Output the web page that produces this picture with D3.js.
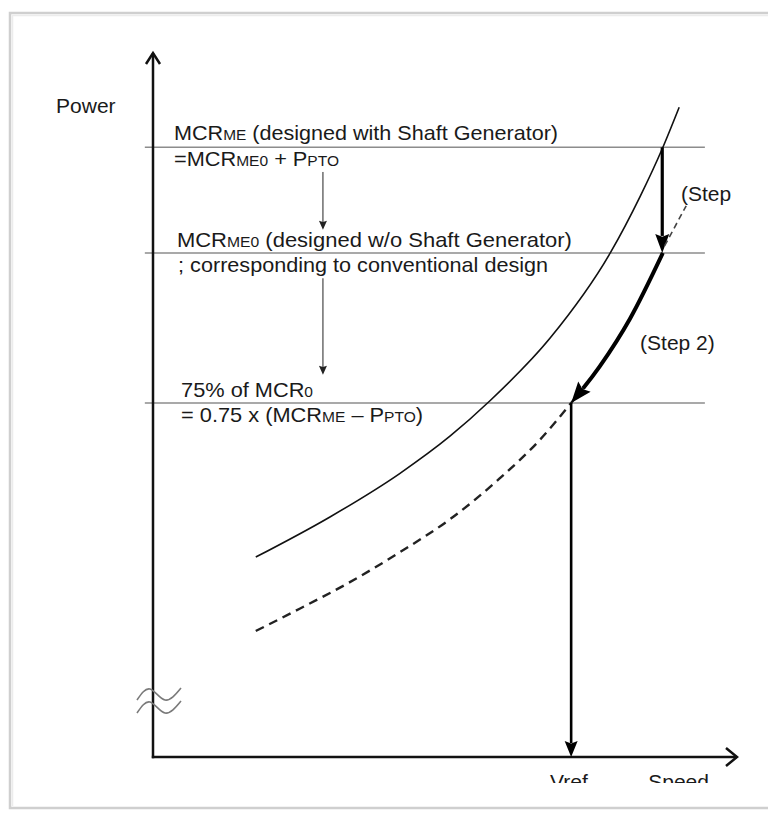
<!DOCTYPE html>
<html>
<head>
<meta charset="utf-8">
<script src="https://cdn.jsdelivr.net/npm/d3@7"></script>
<style>
  body { margin: 0; background: #fff; }
  text { font-family: "Liberation Sans", Arial, sans-serif; fill: #1a1a1a; }
</style>
</head>
<body>
<svg id="chart"></svg>
<script>
// reference power levels (power axis units) and the speed span of their lines
const levelValues = [86.6, 71.6, 50.3]
const levelSpan = [-1.4, 94.5]

// curves, [speed, power]
const solidCurve = [[17.6, 28.4], [30.3, 34.1], [42.3, 40.3], [50.9, 45.6], [57.7, 50.6],
    [68.0, 59.5], [78.3, 71.6], [83.4, 79.6], [87.2, 86.4], [90.1, 92.3]]
const dashedCurve = [[17.6, 17.9], [25.2, 21.1], [33.2, 24.6], [42.3, 29.1], [50.9, 33.8],
    [59.4, 39.6], [66.3, 45.1], [71.6, 50.3], [76.5, 55.5], [81.7, 62.3], [87.3, 71.6]]
const step2Curve = [[87.3, 71.6], [81.7, 62.3], [76.5, 55.5], [71.6, 50.3]]
const step1Arrow = [[87.2, 86.6], [87.2, 71.6]]
const vrefArrow = [[71.6, 50.3], [71.6, 0]]
const thinArrows = [[[29.1, 83.1], [29.1, 74.9]], [[29.1, 68.0], [29.1, 54.3]]]
const step1Leader = [[87.6, 72.6], [91.3, 78.3]]

// label texts, each a list of [text, isSmall]
const levelLabels = [
    [['MCR', 0], ['ME', 1], [' (designed with Shaft Generator)', 0]],
    [['=MCR', 0], ['ME0', 1], [' + P', 0], ['PTO', 1]],
    [['MCR', 0], ['ME0', 1], [' (designed w/o Shaft Generator)', 0]],
    [['; corresponding to conventional design', 0]],
    [['75% of MCR', 0], ['0', 1]],
    [['= 0.75 x (MCR', 0], ['ME', 1], [' \u2013 P', 0], ['PTO', 1], [')', 0]]
]
const axisLabels = ['Power', 'Vref', 'Speed']
const stepLabels = ['(Step', '(Step 2)']

function drawChart() {
    const W = 768, H = 816

    const svg = d3.select('#chart')
        .attr('width', W)
        .attr('height', H)

    svg.append('rect').attr('width', W).attr('height', H).attr('fill', '#fff')

    // screenshot frame
    svg.append('path')
        .attr('d', `M${W + 5},13 H10 V808 H${W + 5}`)
        .attr('fill', 'none')
        .attr('stroke', '#cfcfcf')
        .attr('stroke-width', 2.5)
    svg.append('path')
        .attr('d', `M${W + 5},15.5 H12.5 V806`)
        .attr('fill', 'none')
        .attr('stroke', '#ececec')
        .attr('stroke-width', 1.5)

    const defs = svg.append('defs')
    defs.append('clipPath').attr('id', 'crop')
        .append('rect').attr('x', 0).attr('y', 0).attr('width', W).attr('height', 783)

    const x = d3.scaleLinear().domain([0, 100]).range([153, 737])
    const y = d3.scaleLinear().domain([0, 100]).range([757, 53])
    const line = d3.line().x(d => x(d[0])).y(d => y(d[1]))
    const smooth = d3.line().x(d => x(d[0])).y(d => y(d[1])).curve(d3.curveMonotoneX)

    const g = svg.append('g')

    // draw a path with a filled head at its end
    function arrow(pts, gen, opt) {
        const p = g.append('path')
            .attr('d', gen(pts))
            .attr('fill', 'none')
            .attr('stroke', opt.color)
            .attr('stroke-width', opt.width)
        const node = p.node()
        const total = node.getTotalLength()
        // monotone curves get drawn left to right, so the head may sit at the start
        const last = pts[pts.length - 1]
        const start = node.getPointAtLength(0)
        const reversed = Math.abs(start.x - x(last[0])) < 0.5 && Math.abs(start.y - y(last[1])) < 0.5 && pts.length > 1
        const L = opt.len
        let tip, base
        if (reversed) {
            tip = node.getPointAtLength(0)
            base = node.getPointAtLength(L)
            p.attr('stroke-dasharray', `0 ${L - 2} ${total}`)
        } else {
            tip = node.getPointAtLength(total)
            base = node.getPointAtLength(total - L)
            p.attr('stroke-dasharray', `${total - L + 2} ${total}`)
        }
        const ang = Math.atan2(tip.y - base.y, tip.x - base.x) * 180 / Math.PI
        g.append('path')
            .attr('d', `M0,0L${-L},${-opt.hw}L${-L * 0.85},0L${-L},${opt.hw}Z`)
            .attr('transform', `translate(${tip.x},${tip.y}) rotate(${ang})`)
            .attr('fill', opt.color)
    }

    // level lines
    g.append('g')
        .selectAll('line')
        .data(levelValues)
        .join('line')
            .attr('x1', x(levelSpan[0]))
            .attr('x2', x(levelSpan[1]))
            .attr('y1', d => y(d))
            .attr('y2', d => y(d))
            .attr('stroke', '#8c8c8c')
            .attr('stroke-width', 1.5)

    // axes
    const xAxis = g.append('g')
        .attr('transform', `translate(0,${y(0)})`)
        .call(d3.axisBottom(x).tickValues([]).tickSizeOuter(0))
    const yAxis = g.append('g')
        .attr('transform', `translate(${x(0)},0)`)
        .call(d3.axisLeft(y).tickValues([]).tickSizeOuter(0))
    xAxis.select('.domain').attr('stroke', '#111').attr('stroke-width', 2.5).attr('d', `M${x(0) - 1.2},0H${x(100)}`)
    yAxis.select('.domain').attr('stroke', '#111').attr('stroke-width', 2.5).attr('d', `M0,${y(0) + 1.2}V${y(100)}`)

    g.append('path')
        .attr('d', `M${x(100) - 11},${y(0) - 9}L${x(100)},${y(0)}L${x(100) - 11},${y(0) + 9}`)
        .attr('fill', 'none').attr('stroke', '#111').attr('stroke-width', 2.5)
    g.append('path')
        .attr('d', `M${x(0) - 7},${y(100) + 11}L${x(0)},${y(100)}L${x(0) + 7},${y(100) + 11}`)
        .attr('fill', 'none').attr('stroke', '#111').attr('stroke-width', 2.5)

    // axis break mark
    const wave = d3.line().curve(d3.curveNatural)
    ;[694, 707].forEach(cy => {
        g.append('path')
            .attr('d', wave([[-16, 6], [-3, -5], [12, 6], [28, -6]]))
            .attr('transform', `translate(${x(0)},${cy})`)
            .attr('fill', 'none')
            .attr('stroke', '#7a7a7a')
            .attr('stroke-width', 1.6)
    })

    // curves
    g.append('path')
        .attr('d', smooth(solidCurve))
        .attr('fill', 'none')
        .attr('stroke', '#111')
        .attr('stroke-width', 1.6)
    g.append('path')
        .attr('d', smooth(dashedCurve))
        .attr('fill', 'none')
        .attr('stroke', '#222')
        .attr('stroke-width', 2.4)
        .attr('stroke-dasharray', '9 6')

    // arrows
    thinArrows.forEach(a => arrow(a, line, {color: '#222', width: 1, len: 9, hw: 4}))
    arrow(step1Arrow, line, {color: '#000', width: 3.2, len: 19, hw: 7})
    arrow(step2Curve, smooth, {color: '#000', width: 4, len: 21, hw: 8})
    arrow(vrefArrow, line, {color: '#000', width: 2.6, len: 16, hw: 6.5})

    // labels
    const labelPos = [
        {x: 3.6, y: 87.6, w: 384},
        {x: 3.6, y: 84.0, w: 165},
        {x: 4.1, y: 72.4, w: 395},
        {x: 4.3, y: 68.9, w: 370},
        {x: 4.8, y: 51.1, w: 132},
        {x: 4.8, y: 47.6, w: 242}
    ]
    g.append('g')
        .selectAll('text')
        .data(levelLabels)
        .join('text')
            .attr('x', (d, i) => x(labelPos[i].x))
            .attr('y', (d, i) => y(labelPos[i].y))
            .attr('textLength', (d, i) => labelPos[i].w)
            .attr('lengthAdjust', 'spacingAndGlyphs')
            .style('font-size', '21px')
            .selectAll('tspan')
            .data(d => d)
            .join('tspan')
                .style('font-size', d => d[1] ? '15px' : '21px')
                .text(d => d[0])

    g.append('text')
        .attr('x', x(-16.6))
        .attr('y', y(91.5))
        .style('font-size', '21px')
        .text(axisLabels[0])

    g.append('g')
        .attr('clip-path', 'url(#crop)')
        .selectAll('text')
        .data(axisLabels.slice(1))
        .join('text')
            .attr('x', (d, i) => x([68.0, 84.8][i]))
            .attr('y', y(-4.5))
            .style('font-size', '21px')
            .text(d => d)

    g.append('g')
        .selectAll('text')
        .data(stepLabels)
        .join('text')
            .attr('x', (d, i) => x([90.4, 83.4][i]))
            .attr('y', (d, i) => y([79.0, 57.8][i]))
            .style('font-size', '21px')
            .text(d => d)

    // leader from Step 1 label down to the step arrow
    g.append('path')
        .attr('d', line(step1Leader))
        .attr('fill', 'none')
        .attr('stroke', '#444')
        .attr('stroke-width', 1.6)
        .attr('stroke-dasharray', '6 4')
}

drawChart()
</script>
</body>
</html>
